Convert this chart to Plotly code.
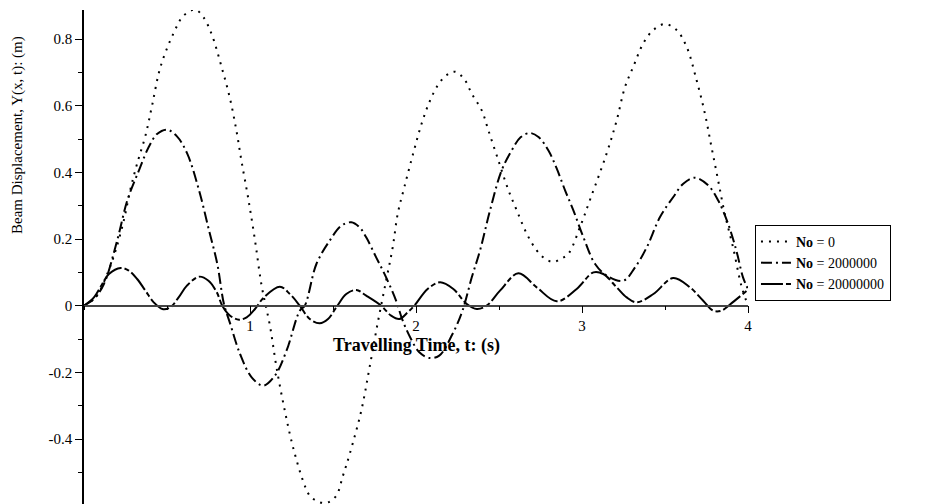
import plotly.graph_objects as go

# ---- data ----
t_no0 = [0, 0.07, 0.14, 0.19, 0.24, 0.28, 0.32, 0.37, 0.41, 0.46, 0.54, 0.60, 0.67, 0.72, 0.77, 0.83,
         0.88, 0.92, 0.95, 0.99, 1.03, 1.07, 1.12, 1.16, 1.21, 1.26, 1.32, 1.36, 1.42, 1.47, 1.52, 1.56,
         1.60, 1.67, 1.72, 1.77, 1.82, 1.86, 1.89, 1.93, 1.98, 2.03, 2.08, 2.13, 2.18, 2.235, 2.29, 2.336,
         2.396, 2.436, 2.496, 2.557, 2.607, 2.667, 2.727, 2.78, 2.828, 2.87, 2.918, 2.988, 3.05, 3.148,
         3.209, 3.259, 3.309, 3.369, 3.43, 3.50, 3.57, 3.63, 3.69, 3.74, 3.78, 3.82, 3.86, 3.91, 3.96, 4.0]
y_no0 = [0, 0.025, 0.095, 0.165, 0.256, 0.35, 0.426, 0.51, 0.60, 0.715, 0.818, 0.87, 0.888, 0.865, 0.813, 0.714,
         0.62, 0.52, 0.43, 0.32, 0.196, 0.06, -0.06, -0.186, -0.316, -0.426, -0.526, -0.57, -0.59, -0.59, -0.57, -0.51,
         -0.446, -0.316, -0.186, -0.05, 0.075, 0.176, 0.276, 0.356, 0.451, 0.54, 0.61, 0.66, 0.69, 0.702, 0.68, 0.636,
         0.586, 0.526, 0.436, 0.346, 0.286, 0.216, 0.166, 0.14, 0.131, 0.14, 0.156, 0.236, 0.32, 0.456,
         0.556, 0.656, 0.717, 0.787, 0.827, 0.845, 0.827, 0.777, 0.677, 0.577, 0.476, 0.376, 0.276, 0.175, 0.06, 0.0]

t_no2m = [0, 0.06, 0.12, 0.2, 0.261, 0.331, 0.39, 0.44, 0.50, 0.56, 0.622, 0.693, 0.753, 0.803, 0.843, 0.88,
          0.94, 1.01, 1.08, 1.15, 1.22, 1.30, 1.33, 1.40, 1.48, 1.55, 1.61, 1.66, 1.70, 1.76, 1.82, 1.88,
          1.92, 1.97, 2.02, 2.08, 2.14, 2.22, 2.28, 2.336, 2.386, 2.446, 2.516, 2.577, 2.63, 2.687, 2.74, 2.797,
          2.848, 2.898, 2.948, 3.008, 3.079, 3.15, 3.249, 3.32, 3.39, 3.47, 3.55, 3.61, 3.68, 3.76, 3.82,
          3.88, 3.93, 3.97, 4.0]
y_no2m = [0, 0.02, 0.065, 0.196, 0.316, 0.406, 0.476, 0.515, 0.528, 0.508, 0.456, 0.346, 0.226, 0.125, 0.005, -0.053,
          -0.145, -0.215, -0.24, -0.21, -0.135, -0.015, 0.0, 0.125, 0.195, 0.24, 0.25, 0.235, 0.205, 0.145, 0.085, 0.015,
          -0.045, -0.10, -0.14, -0.157, -0.15, -0.085, -0.015, 0.085, 0.166, 0.286, 0.406, 0.466, 0.505, 0.518, 0.505, 0.466,
          0.411, 0.346, 0.286, 0.206, 0.125, 0.09, 0.075, 0.115, 0.175, 0.266, 0.326, 0.366, 0.384, 0.361, 0.316,
          0.246, 0.165, 0.085, 0.05]

t_no20m = [0, 0.06, 0.11, 0.15, 0.221, 0.27, 0.32, 0.37, 0.42, 0.472, 0.52, 0.57, 0.62, 0.693, 0.75, 0.80,
           0.833, 0.88, 0.934, 0.98, 1.03, 1.084, 1.18, 1.24, 1.30, 1.36, 1.42, 1.47, 1.52, 1.58, 1.64, 1.70,
           1.79, 1.85, 1.90, 1.95, 1.99, 2.07, 2.145, 2.225, 2.306, 2.366, 2.426, 2.506, 2.617, 2.727, 2.848,
           2.968, 3.069, 3.128, 3.209, 3.269, 3.33, 3.43, 3.55, 3.65, 3.73, 3.79, 3.84, 3.89, 4.0]
y_no20m = [0, 0.025, 0.065, 0.095, 0.113, 0.105, 0.08, 0.045, 0.01, -0.01, -0.005, 0.025, 0.06, 0.087, 0.075, 0.04,
           0.0, -0.03, -0.042, -0.035, -0.01, 0.025, 0.057, 0.035, 0.0, -0.04, -0.053, -0.04, -0.005, 0.035, 0.047, 0.03,
           0.0, -0.03, -0.04, -0.02, 0.0, 0.05, 0.07, 0.05, 0.005, -0.01, 0.0, 0.045, 0.097, 0.055, 0.013,
           0.05, 0.1, 0.095, 0.055, 0.025, 0.01, 0.035, 0.083, 0.055, 0.015, -0.015, -0.015, 0.003, 0.048]

series_names = ["<b>No</b> = 0", "<b>No</b> = 2000000", "<b>No</b> = 20000000"]
x_tick_vals = [1, 2, 3, 4]
x_tick_text = ["1", "2", "3", "4"]
y_tick_vals = [-0.4, -0.2, 0, 0.2, 0.4, 0.6, 0.8]
y_tick_text = ["-0.4", "-0.2", "0", "0.2", "0.4", "0.6", "0.8"]
x_title = "Travelling Time, t: (s)"
y_title = "Beam Displacement, Y(x, t): (m)"

# ---- figure ----
FONT = "Liberation Serif, Times New Roman, serif"
y_lo, y_hi = -0.595, 0.887

fig = go.Figure()
fig.add_trace(go.Scatter(x=t_no0, y=y_no0, mode="lines", name=series_names[0],
                         line=dict(color="black", width=2, dash="2px,6px", shape="spline")))
fig.add_trace(go.Scatter(x=t_no2m, y=y_no2m, mode="lines", name=series_names[1],
                         line=dict(color="black", width=2, dash="11px,4px,2px,4px", shape="spline")))
fig.add_trace(go.Scatter(x=t_no20m, y=y_no20m, mode="lines", name=series_names[2],
                         line=dict(color="black", width=2, dash="22px,3px,5px,3px", shape="spline")))

# page body has an 8px default margin, so the figure is sized/offset to compensate
fig.update_layout(
    width=933, height=496,
    margin=dict(l=76, r=193, t=2, b=0, pad=0),
    paper_bgcolor="white", plot_bgcolor="white",
    font=dict(family=FONT, size=15, color="black"),
    hovermode=False,
    showlegend=True,
    legend=dict(x=1.0105, y=0.565, xanchor="left", yanchor="top",
                bordercolor="black", borderwidth=1, bgcolor="white",
                font=dict(family=FONT, size=14, color="black"),
                tracegroupgap=0),
    xaxis=dict(range=[0, 4], anchor="free", position=(0 - y_lo) / (y_hi - y_lo),
               showgrid=False, zeroline=False, showline=True, linecolor="#444", linewidth=1.5,
               tickmode="array", tickvals=x_tick_vals, ticktext=x_tick_text,
               ticks="outside", ticklen=7, tickcolor="black", tickwidth=1,
               tickfont=dict(family=FONT, size=15, color="black"),
               minor=dict(dtick=0.5, tick0=0, ticks="outside", ticklen=4, tickcolor="black", showgrid=False)),
    yaxis=dict(range=[y_lo, y_hi], showgrid=False, zeroline=False, showline=True,
               linecolor="black", linewidth=1.5,
               tickmode="array", tickvals=y_tick_vals, ticktext=y_tick_text,
               ticks="outside", ticklen=7, tickcolor="black", tickwidth=1,
               tickfont=dict(family=FONT, size=15, color="black"),
               minor=dict(dtick=0.1, tick0=0, ticks="outside", ticklen=4, tickcolor="black", showgrid=False)),
)

fig.add_annotation(x=2.0, y=-0.118, xref="x", yref="y", text="<b>" + x_title + "</b>",
                   xanchor="center", yanchor="middle",
                   showarrow=False, font=dict(family=FONT, size=18, color="black"))
fig.add_annotation(x=(17 - 84) / 664, y=(504 - 135) / 494, xref="paper", yref="paper",
                   xanchor="center", yanchor="middle",
                   text=y_title, textangle=-90, showarrow=False,
                   font=dict(family=FONT, size=15, color="black"))

fig.write_html("out.html")
